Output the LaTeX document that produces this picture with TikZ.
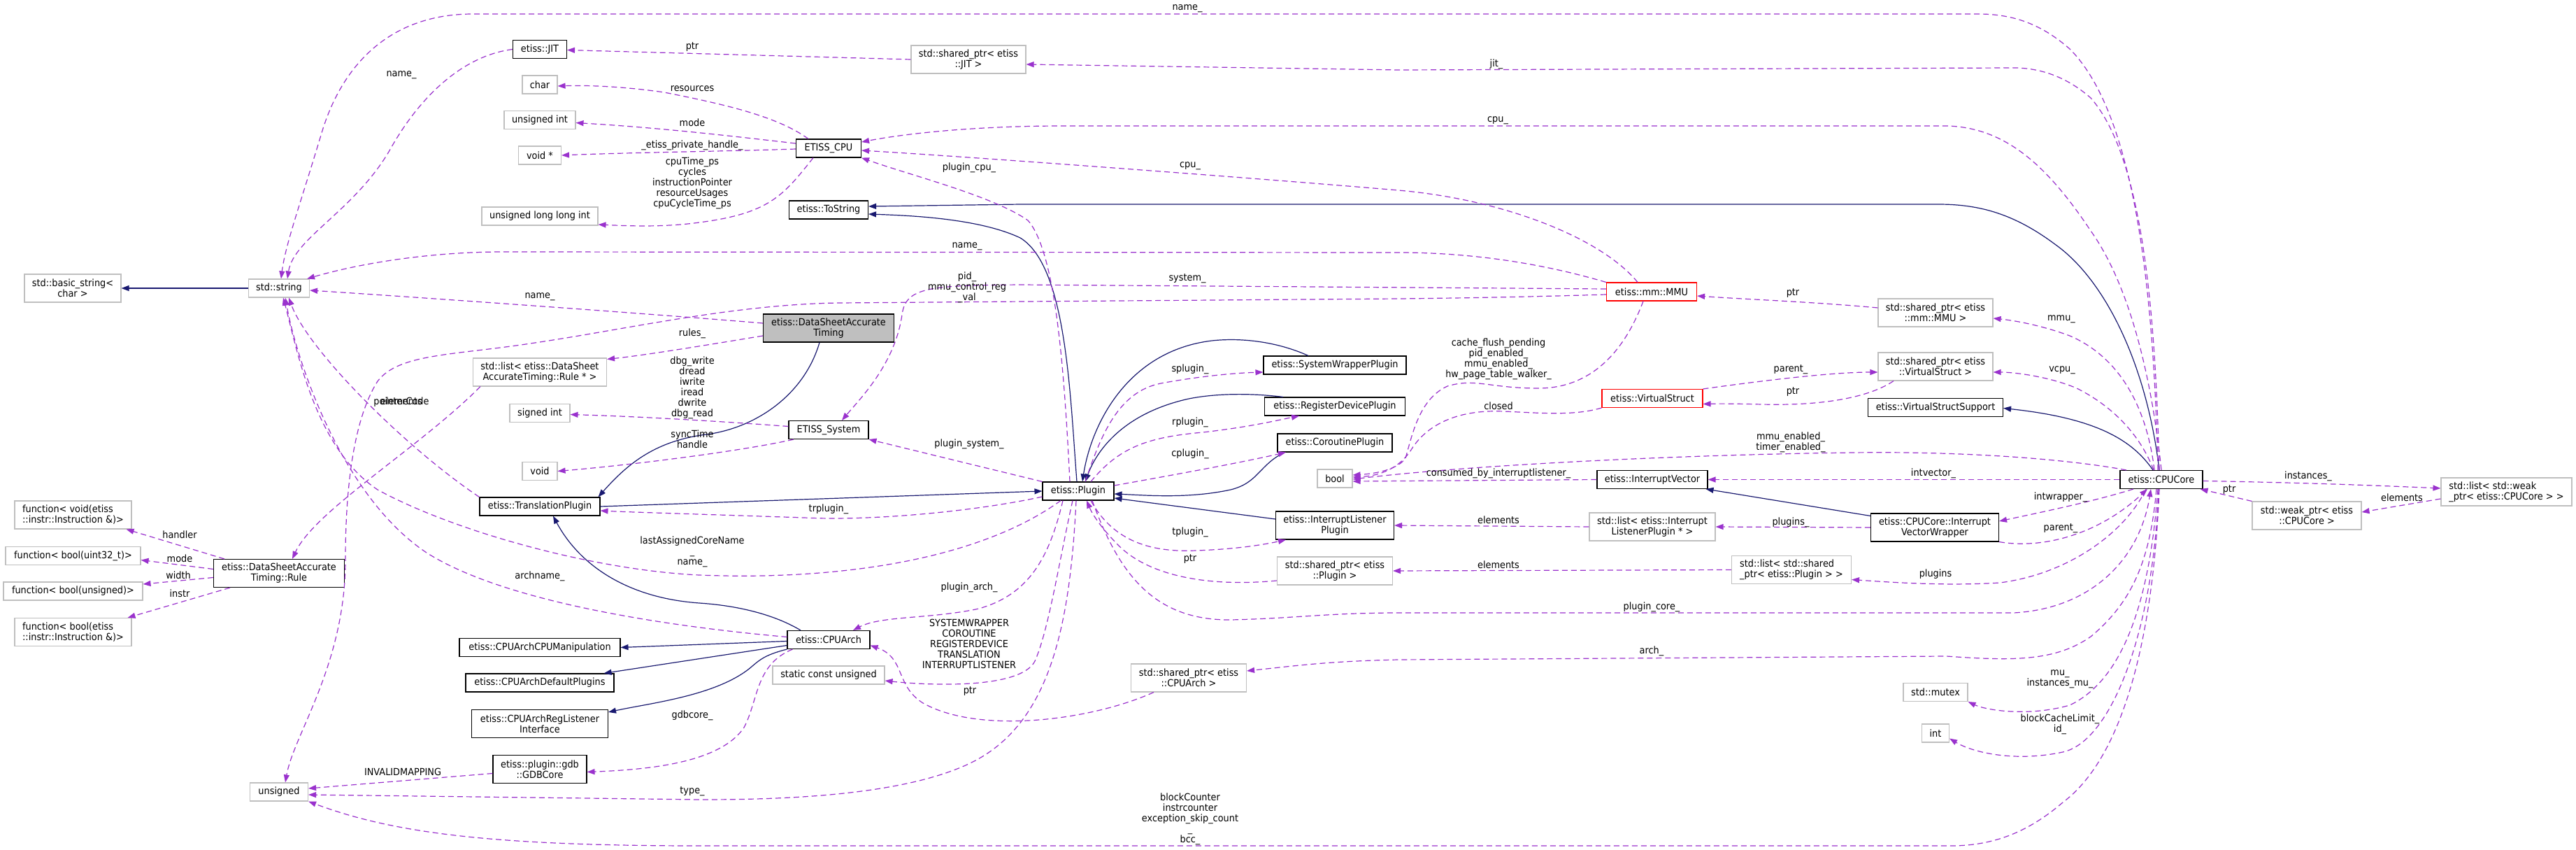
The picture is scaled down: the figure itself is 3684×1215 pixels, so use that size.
\documentclass[tikz,border=0pt]{standalone}
\usepackage{fontspec}
\setmainfont{DejaVu Sans}[FakeStretch=0.92]
\usetikzlibrary{arrows.meta}
\definecolor{dorchid}{HTML}{9A32CD}
\definecolor{mblue}{HTML}{191970}
\definecolor{gborder}{HTML}{BFBFBF}
\definecolor{mainfill}{HTML}{BFBFBF}
\begin{document}
\begin{tikzpicture}[x=1pt,y=-1pt,
  every node/.style={font=\fontsize{14}{15}\selectfont},
  cls/.style={draw=black, fill=white, line width=1.1pt, inner sep=0pt, minimum height=26pt, align=center},
  ext/.style={cls, draw=gborder},
  redb/.style={cls, draw=red},
  two/.style={minimum height=40pt},
  lbl/.style={inner sep=0pt, align=center},
  dep/.style={draw=dorchid, line width=1.2pt, dash pattern=on 8pt off 5pt, -{Triangle[length=11pt,width=8pt]}},
  inh/.style={draw=mblue, line width=1.2pt, -{Triangle[length=11pt,width=8pt]}}]
\fill[white] (0,0) rectangle (3684,1215);
\useasboundingbox (0,0) rectangle (3684,1215);

% ---------- nodes ----------
\node[ext,two,minimum width=138pt] (bstr) at (104,412) {std::basic\_string<\\char >};
\node[ext,minimum width=87pt] (str) at (399,412) {std::string};
\node[cls,minimum width=77pt] (jit) at (772,70.5) {etiss::JIT};
\node[ext,minimum width=50pt] (chr) at (772,121) {char};
\node[ext,minimum width=102pt] (uint) at (772,171.5) {unsigned int};
\node[ext,minimum width=61pt] (voidp) at (772,222) {void *};
\node[ext,minimum width=166pt] (ulli) at (772,309) {unsigned long long int};
\node[ext,two,minimum width=164pt] (spjit) at (1385,85) {std::shared\_ptr< etiss\\::JIT >};
\node[cls,minimum width=93pt] (ecpu) at (1185,212) {ETISS\_CPU};
\node[cls,minimum width=113pt] (tostr) at (1185,300) {etiss::ToString};
\node[cls,two,fill=mainfill,minimum width=187pt] (dat) at (1185,469) {etiss::DataSheetAccurate\\Timing};
\node[ext,two,minimum width=191pt] (lrule) at (772,532) {std::list< etiss::DataSheet\\AccurateTiming::Rule * >};
\node[ext,minimum width=86pt] (sint) at (772,590.5) {signed int};
\node[ext,minimum width=50pt] (vd) at (772,673.5) {void};
\node[cls,minimum width=114pt] (esys) at (1185,614.5) {ETISS\_System};
\node[cls,minimum width=172pt] (tp) at (772,724) {etiss::TranslationPlugin};
\node[ext,two,minimum width=167pt,align=left] (f1) at (104.5,736) {function< void(etiss\\::instr::Instruction \&)>};
\node[ext,minimum width=193pt] (f2) at (104.5,794.5) {function< bool(uint32\_t)>};
\node[cls,two,minimum width=187pt] (rule) at (399,819.5) {etiss::DataSheetAccurate\\Timing::Rule};
\node[ext,minimum width=199pt] (f3) at (104.5,845) {function< bool(unsigned)>};
\node[ext,two,minimum width=167pt,align=left] (f4) at (104.5,903.5) {function< bool(etiss\\::instr::Instruction \&)>};
\node[cls,minimum width=102pt] (plugin) at (1542,702) {etiss::Plugin};
\node[cls,minimum width=204pt] (swp) at (1909,522) {etiss::SystemWrapperPlugin};
\node[cls,minimum width=201pt] (rdp) at (1909,581) {etiss::RegisterDevicePlugin};
\node[cls,minimum width=164pt] (cop) at (1909,633) {etiss::CoroutinePlugin};
\node[ext,minimum width=50pt] (booln) at (1909,684) {bool};
\node[cls,two,minimum width=169pt] (ilp) at (1909,751) {etiss::InterruptListener\\Plugin};
\node[ext,two,minimum width=165pt] (spplug) at (1909,816) {std::shared\_ptr< etiss\\::Plugin >};
\node[cls,minimum width=118pt] (cpuarch) at (1185,914.5) {etiss::CPUArch};
\node[ext,minimum width=160pt] (scu) at (1185,965) {static const unsigned};
\node[cls,minimum width=230pt] (cacm) at (772,925.5) {etiss::CPUArchCPUManipulation};
\node[cls,minimum width=212pt] (cadp) at (772,976) {etiss::CPUArchDefaultPlugins};
\node[cls,two,minimum width=195pt] (carl) at (772,1034.5) {etiss::CPUArchRegListener\\Interface};
\node[cls,two,minimum width=134pt] (gdb) at (772,1099.5) {etiss::plugin::gdb\\::GDBCore};
\node[ext,minimum width=83pt] (uns) at (399,1132) {unsigned};
\node[ext,two,minimum width=165pt] (sparch) at (1700,969) {std::shared\_ptr< etiss\\::CPUArch >};
\node[redb,minimum width=129pt] (mmu) at (2362,417) {etiss::mm::MMU};
\node[ext,two,minimum width=164pt] (spmmu) at (2768,447) {std::shared\_ptr< etiss\\::mm::MMU >};
\node[redb,minimum width=144pt] (vs) at (2363,569.5) {etiss::VirtualStruct};
\node[ext,two,minimum width=164pt] (spvs) at (2768,524) {std::shared\_ptr< etiss\\::VirtualStruct >};
\node[cls,minimum width=193pt] (vss) at (2768,582.5) {etiss::VirtualStructSupport};
\node[cls,minimum width=158pt] (iv) at (2363,685.5) {etiss::InterruptVector};
\node[ext,two,minimum width=180pt] (livp) at (2363,753) {std::list< etiss::Interrupt\\ListenerPlugin * >};
\node[cls,two,minimum width=183pt] (ivw) at (2767,754) {etiss::CPUCore::Interrupt\\VectorWrapper};
\node[ext,two,minimum width=171pt,align=left] (lspp) at (2562,814.5) {std::list< std::shared\\\_ptr< etiss::Plugin > >};
\node[ext,minimum width=92pt] (mutex) at (2768,989.5) {std::mutex};
\node[ext,minimum width=39pt] (intn) at (2768,1048) {int};
\node[cls,minimum width=118pt] (core) at (3091,685.5) {etiss::CPUCore};
\node[ext,two,minimum width=187pt,align=left] (lwp) at (3584.5,703) {std::list< std::weak\\\_ptr< etiss::CPUCore > >};
\node[ext,two,minimum width=156pt] (wp) at (3299,737) {std::weak\_ptr< etiss\\::CPUCore >};

% ---------- inheritance ----------
\draw[inh] (str.west) -- (bstr.east);
\draw[inh] ([xshift=-13pt]dat.south) .. controls (1150,565) and (1080,612) .. (1010,621) .. controls (940,630) and (900,660) .. ([xshift=-3pt]tp.north east);
\draw[inh] (tp.east) -- (plugin.west);
\draw[inh] ([xshift=-2pt]plugin.north) .. controls (1530,560) and (1525,380) .. (1459,340) .. controls (1400,312) and (1300,308) .. ([yshift=-6pt]tostr.east);
\draw[inh] ([xshift=-3pt]core.north) .. controls (3070,520) and (3010,400) .. (2940,350) .. controls (2880,305) and (2830,292) .. (2772,292) -- (1460,292) -- ([yshift=5pt]tostr.east);
\draw[inh] ([xshift=-12pt]core.north) .. controls (3050,630) and (3000,598) .. ([yshift=-1pt]vss.east);
\draw[inh] ([yshift=-4pt]ivw.north west) -- ([xshift=-3pt]iv.south east);
\draw[inh] ([xshift=-38pt]swp.north) .. controls (1830,490) and (1780,482) .. (1733,487) .. controls (1610,502) and (1560,610) .. ([xshift=6pt]plugin.north);
\draw[inh] ([xshift=-74pt]rdp.north) .. controls (1790,562) and (1740,562) .. (1700,570) .. controls (1610,590) and (1570,640) .. ([xshift=10pt]plugin.north);
\draw[inh] ([xshift=-72pt]cop.south) .. controls (1800,665) and (1800,690) .. (1760,700) .. controls (1700,713) and (1640,708) .. ([yshift=-4pt]plugin.east);
\draw[inh] ([yshift=9pt]ilp.west) -- ([yshift=-10pt]plugin.east);
\draw[inh] ([yshift=-2pt]cpuarch.west) -- (cacm.east);
\draw[inh] ([yshift=-8pt]cpuarch.west) -- ([xshift=-15pt]cadp.north east);
\draw[inh] (cpuarch.south west) .. controls (1090,937) and (1085,945) .. (1070,957) .. controls (1020,995) and (930,1005) .. ([yshift=-4pt]carl.north east);
\draw[inh] ([xshift=-40pt]cpuarch.north) .. controls (1110,880) and (1060,866) .. (1000,862) .. controls (900,855) and (830,810) .. ([xshift=19pt]tp.south);

% ---------- usage ----------
\draw[dep] ([xshift=-5pt]core.north) .. controls (3080,400) and (3050,160) .. (2960,70) .. controls (2920,35) and (2880,20) .. (2829,20) -- (676,20) .. controls (560,20) and (490,90) .. (460,190) .. controls (430,290) and (408,350) .. ([xshift=3pt]str.north);
\draw[dep] (spjit.west) -- ([yshift=-1pt]jit.east);
\draw[dep] ([xshift=-3pt]core.north) .. controls (3082,420) and (3060,220) .. (2990,140) .. controls (2950,105) and (2910,97) .. (2880,97) -- (2000,100) -- ([yshift=-7pt]spjit.east);
\draw[dep] (jit.west) .. controls (660,80) and (600,140) .. (560,210) .. controls (510,300) and (420,340) .. ([xshift=12pt]str.north);
\draw[dep] ([xshift=-29pt]ecpu.north) .. controls (1110,165) and (1030,148) .. (950,132) .. controls (880,122) and (830,122) .. ([yshift=-2pt]chr.east);
\draw[dep] ([yshift=7pt]ecpu.west) .. controls (1050,195) and (950,183) .. ([yshift=-4pt]uint.east);
\draw[dep] ([yshift=-1pt]ecpu.west) .. controls (1050,216) and (900,218) .. (voidp.east);
\draw[dep] ([xshift=-22pt]ecpu.south) .. controls (1120,280) and (1100,305) .. (1000,318) .. controls (950,325) and (900,323) .. ([yshift=-12pt]ulli.east);
\draw[dep] (core.north) .. controls (3075,520) and (3040,400) .. (2990,330) .. controls (2930,240) and (2870,182) .. (2784,180) -- (1520,180) .. controls (1400,180) and (1300,190) .. ([yshift=9pt]ecpu.east);
\draw[dep] ([xshift=-20pt]mmu.north) .. controls (2290,340) and (2150,285) .. (2000,272) .. controls (1800,255) and (1400,225) .. ([yshift=-3pt]ecpu.east);
\draw[dep] ([xshift=-12pt]plugin.north) .. controls (1522,530) and (1510,360) .. (1470,315) .. controls (1420,280) and (1300,250) .. (ecpu.south east);
\draw[dep] (mmu.north west) .. controls (2200,375) and (2100,361) .. (2000,361) -- (720,360) .. controls (620,360) and (520,375) .. ([xshift=-4pt]str.north east);
\draw[dep] ([yshift=4pt]mmu.west) -- (1460,407) .. controls (1330,408) and (1295,410) .. (1290,450) .. controls (1280,520) and (1230,570) .. ([xshift=19pt]esys.north);
\draw[dep] ([yshift=-4pt]mmu.west) .. controls (2200,424) and (2100,426) .. (2000,427) -- (1200,433) .. controls (1050,435) and (900,470) .. (765,490) .. controls (650,508) and (570,505) .. (540,545) .. controls (505,600) and (494,700) .. (494,800) .. controls (494,950) and (420,1050) .. ([xshift=9pt]uns.north);
\draw[dep] ([yshift=7pt]dat.west) .. controls (950,450) and (600,425) .. ([yshift=-3pt]str.east);
\draw[dep] ([yshift=-11pt]dat.west) .. controls (1000,495) and (920,508) .. ([yshift=-2pt]lrule.north east);
\draw[dep] ([xshift=-85pt]lrule.south) .. controls (600,640) and (450,730) .. ([xshift=19pt]rule.north);
\draw[dep] (tp.north west) .. controls (580,640) and (440,500) .. ([xshift=14pt]str.south);
\draw[dep] ([xshift=-78pt]rule.north) -- ([xshift=-8pt]f1.south east);
\draw[dep] ([yshift=6pt]rule.west) -- ([yshift=-6pt]f2.east);
\draw[dep] ([yshift=-6pt]rule.west) -- ([yshift=10pt]f3.east);
\draw[dep] ([xshift=-70pt]rule.south) -- ([xshift=-6pt]f4.north east);
\draw[dep] ([yshift=5pt]esys.west) .. controls (1000,600) and (900,595) .. ([yshift=-2pt]sint.east);
\draw[dep] ([xshift=-50pt]esys.south) .. controls (1060,645) and (900,665) .. (vd.east);
\draw[dep] (plugin.north west) -- (esys.south east);
\draw[dep] ([yshift=-8pt]plugin.west) .. controls (1400,730) and (1250,745) .. (1150,740) .. controls (1000,735) and (900,732) .. ([yshift=-6pt]tp.east);
\draw[dep] ([xshift=-25pt]plugin.south) .. controls (1400,800) and (1200,830) .. (1000,822) .. controls (850,815) and (650,760) .. (540,700) .. controls (450,640) and (425,500) .. ([xshift=6pt]str.south);
\draw[dep] ([yshift=4pt]cpuarch.west) .. controls (950,895) and (720,860) .. (610,790) .. controls (490,710) and (425,520) .. ([xshift=9pt]str.south);
\draw[dep] ([xshift=10pt]plugin.north) .. controls (1575,620) and (1600,560) .. (1660,548) .. controls (1720,537) and (1770,533) .. ([yshift=-10pt]swp.west);
\draw[dep] ([xshift=18pt]plugin.north) .. controls (1600,640) and (1640,625) .. (1720,618) .. controls (1790,610) and (1830,600) .. ([xshift=-51pt]rdp.south);
\draw[dep] ([yshift=8pt]plugin.east) .. controls (1700,675) and (1780,660) .. ([xshift=-70pt]cop.south);
\draw[dep] ([xshift=18pt]plugin.south) .. controls (1590,770) and (1640,790) .. (1710,787) .. controls (1770,785) and (1810,778) .. ([xshift=-70pt]ilp.south);
\draw[dep] ([yshift=-14pt]spplug.west) .. controls (1720,840) and (1640,820) .. (1600,780) .. controls (1570,750) and (1560,730) .. ([xshift=12pt]plugin.south);
\draw[dep] (livp.west) -- (ilp.east);
\draw[dep] (lspp.west) -- (spplug.east);
\draw[dep] ([xshift=-22pt]plugin.south) .. controls (1500,800) and (1470,850) .. (1400,870) .. controls (1330,885) and (1260,880) .. ([xshift=35pt]cpuarch.north);
\draw[dep] ([xshift=-8pt]plugin.south) .. controls (1515,800) and (1500,900) .. (1480,945) .. controls (1460,985) and (1330,980) .. ([yshift=-8pt]scu.east);
\draw[dep] ([xshift=-3pt]plugin.south) .. controls (1530,900) and (1500,1040) .. (1383,1093) .. controls (1280,1140) and (1100,1143) .. (1000,1143) -- ([yshift=-4pt]uns.east);
\draw[dep] ([yshift=-6pt]gdb.west) -- ([yshift=5pt]uns.east);
\draw[dep] ([xshift=8pt]cpuarch.south west) .. controls (1080,950) and (1085,1000) .. (1064,1040) .. controls (1030,1090) and (930,1100) .. ([yshift=-4pt]gdb.east);
\draw[dep] ([xshift=-7pt]core.south) .. controls (3075,800) and (3050,860) .. (2990,910) .. controls (2940,945) and (2880,945) .. (2784,938) -- (2000,943) .. controls (1900,945) and (1850,952) .. ([yshift=10pt]sparch.east);
\draw[dep] ([xshift=-50pt]sparch.south) .. controls (1560,1030) and (1400,1050) .. (1320,1005) .. controls (1280,980) and (1295,940) .. ([yshift=-8pt]cpuarch.east);
\draw[dep] ([xshift=20pt]plugin.south) .. controls (1600,820) and (1650,887) .. (1760,886) .. controls (1850,884) and (1900,876) .. (2000,876) -- (2880,876) .. controls (2990,870) and (3060,800) .. ([xshift=-15pt]core.south);
\draw[dep] ([xshift=-3pt]core.south) .. controls (3080,900) and (3040,1080) .. (2950,1147) .. controls (2900,1190) and (2850,1209) .. (2790,1209) -- (1000,1209) .. controls (700,1209) and (560,1190) .. (uns.south east);
\draw[dep] ([xshift=-10pt]core.north) .. controls (3070,580) and (3030,510) .. (2960,480) .. controls (2920,465) and (2880,458) .. ([yshift=-8pt]spmmu.east);
\draw[dep] ([yshift=7pt]spmmu.west) .. controls (2600,432) and (2500,428) .. ([yshift=-6pt]mmu.east);
\draw[dep] ([xshift=-11pt]core.north) .. controls (3060,620) and (3020,580) .. (2970,555) .. controls (2930,538) and (2880,532) .. ([yshift=-8pt]spvs.east);
\draw[dep] (vs.north east) .. controls (2550,540) and (2630,532) .. ([yshift=-8pt]spvs.west);
\draw[dep] ([xshift=-60pt]spvs.south) .. controls (2670,570) and (2600,580) .. (2520,578) .. controls (2480,577) and (2460,577) .. ([yshift=-8pt]vs.east);
\draw[dep] ([xshift=-12pt]mmu.south) .. controls (2320,510) and (2270,555) .. (2200,555) .. controls (2130,555) and (2110,540) .. (2070,552) .. controls (2030,570) and (2020,620) .. (2010,655) .. controls (2000,670) and (1970,677) .. ([yshift=5pt]booln.east);
\draw[dep] (vs.south west) .. controls (2250,595) and (2200,590) .. (2150,588) .. controls (2080,585) and (2040,610) .. (2020,640) .. controls (2005,665) and (1980,680) .. ([yshift=2pt]booln.east);
\draw[dep] ([xshift=-50pt]core.north) .. controls (2950,655) and (2800,645) .. (2650,647) .. controls (2400,650) and (2100,665) .. ([yshift=-1pt]booln.east);
\draw[dep] (iv.west) -- ([yshift=-4pt]booln.east);
\draw[dep] (core.west) -- (iv.east);
\draw[dep] ([xshift=-40pt]core.south) .. controls (3000,715) and (2930,730) .. ([yshift=9pt]ivw.east);
\draw[dep] (ivw.south east) .. controls (2920,785) and (3000,765) .. ([xshift=-20pt]core.south);
\draw[dep] (ivw.west) -- (livp.east);
\draw[dep] ([xshift=-22pt]core.south) .. controls (3040,760) and (2960,820) .. (2860,833) .. controls (2780,838) and (2700,832) .. ([yshift=-14pt]lspp.east);
\draw[dep] ([xshift=-5pt]core.south) .. controls (3075,850) and (3040,970) .. (2960,1008) .. controls (2900,1025) and (2840,1015) .. (mutex.south east);
\draw[dep] ([xshift=-4pt]core.south) .. controls (3080,900) and (3020,1060) .. (2950,1075) .. controls (2880,1090) and (2820,1075) .. ([yshift=6pt]intn.south east);
\draw[dep] ([yshift=-2pt]core.east) .. controls (3300,690) and (3400,694) .. ([yshift=5pt]lwp.west);
\draw[dep] ([yshift=-10pt]lwp.west) -- ([yshift=5pt]wp.east);
\draw[dep] (wp.north west) -- ([xshift=-4pt]core.south east);

% ---------- labels ----------
\node[lbl] (l1) at (1698,12) {name\_};
\node[lbl] (l2) at (990,67) {ptr};
\node[lbl] (l3) at (574,107) {name\_};
\node[lbl] (l4) at (2140,92) {jit\_};
\node[lbl] (l5) at (990,127) {resources};
\node[lbl] (l6) at (2142,172) {cpu\_};
\node[lbl] (l7) at (990,175) {mode};
\node[lbl] (l8) at (990,208) {\_etiss\_private\_handle\_};
\node[lbl] (l9) at (990,261.5) {cpuTime\_ps\\cycles\\instructionPointer\\resourceUsages\\cpuCycleTime\_ps};
\node[lbl] (l10) at (1386,240) {plugin\_cpu\_};
\node[lbl] (l11) at (1702,237) {cpu\_};
\node[lbl] (l12) at (1383,352) {name\_};
\node[lbl] (l13) at (1383,411) {pid\_\\mmu\_control\_reg\\\_val};
\node[lbl] (l14) at (1698,398) {system\_};
\node[lbl] (l15) at (772,424) {name\_};
\node[lbl] (l16) at (990,477) {rules\_};
\node[lbl] (l17) at (2564,419) {ptr};
\node[lbl] (l18) at (2948,456) {mmu\_};
\node[lbl] (l19) at (2143,513) {cache\_flush\_pending\\pid\_enabled\_\\mmu\_enabled\_\\hw\_page\_table\_walker\_};
\node[lbl] (l20) at (2561,528) {parent\_};
\node[lbl] (l21) at (2949,529) {vcpu\_};
\node[lbl] (l22) at (990,554.5) {dbg\_write\\dread\\iwrite\\iread\\dwrite\\dbg\_read};
\node[lbl] (l23) at (1702,528) {splugin\_};
\node[lbl] (l24) at (2564,560) {ptr};
\node[lbl] (l25) at (574,573) {elements};
\node[lbl] (l25b) at (574,575) {pointerCode};
\node[lbl] (l26) at (2143,580) {closed};
\node[lbl] (l27) at (1702,604) {rplugin\_};
\node[lbl] (l28) at (990,627.5) {syncTime\\handle};
\node[lbl] (l29) at (1386,635) {plugin\_system\_};
\node[lbl] (l30) at (2561,632) {mmu\_enabled\_\\timer\_enabled\_};
\node[lbl] (l31) at (1702,649) {cplugin\_};
\node[lbl] (l32) at (2143,677) {consumed\_by\_interruptlistener\_};
\node[lbl] (l33) at (2765,677) {intvector\_};
\node[lbl] (l34) at (3301,681) {instances\_};
\node[lbl] (l35) at (3188,700) {ptr};
\node[lbl] (l36) at (2947,711) {intwrapper\_};
\node[lbl] (l37) at (3435,711) {elements};
\node[lbl] (l38) at (1185,728) {trplugin\_};
\node[lbl] (l39) at (2143,743) {elements};
\node[lbl] (l40) at (2561,747) {plugins\_};
\node[lbl] (l41) at (2947,755) {parent\_};
\node[lbl] (l42) at (1702,761) {tplugin\_};
\node[lbl] (l43) at (257,764) {handler};
\node[lbl] (l44) at (990,789) {lastAssignedCoreName\\\_\\name\_};
\node[lbl] (l45) at (257,798) {mode};
\node[lbl] (l46) at (1702,799) {ptr};
\node[lbl] (l47) at (2143,807) {elements};
\node[lbl] (l48) at (2768,821) {plugins};
\node[lbl] (l49) at (255,822) {width};
\node[lbl] (l50) at (772,824) {archname\_};
\node[lbl] (l51) at (1386,840) {plugin\_arch\_};
\node[lbl] (l52) at (257,848) {instr};
\node[lbl] (l53) at (2362,868) {plugin\_core\_};
\node[lbl] (l54) at (1386,920) {SYSTEMWRAPPER\\COROUTINE\\REGISTERDEVICE\\TRANSLATION\\INTERRUPTLISTENER};
\node[lbl] (l55) at (2362,931) {arch\_};
\node[lbl] (l56) at (2946,970.5) {mu\_\\instances\_mu\_};
\node[lbl] (l57) at (1387,988) {ptr};
\node[lbl] (l58) at (990,1023) {gdbcore\_};
\node[lbl] (l59) at (2946,1035) {blockCacheLimit\_\\id\_};
\node[lbl] (l60) at (576,1103) {INVALIDMAPPING};
\node[lbl] (l61) at (990,1131) {type\_};
\node[lbl] (l62) at (1702,1171) {blockCounter\\instrcounter\\exception\_skip\_count\\\_\\bcc\_};
\end{tikzpicture}
\end{document}
